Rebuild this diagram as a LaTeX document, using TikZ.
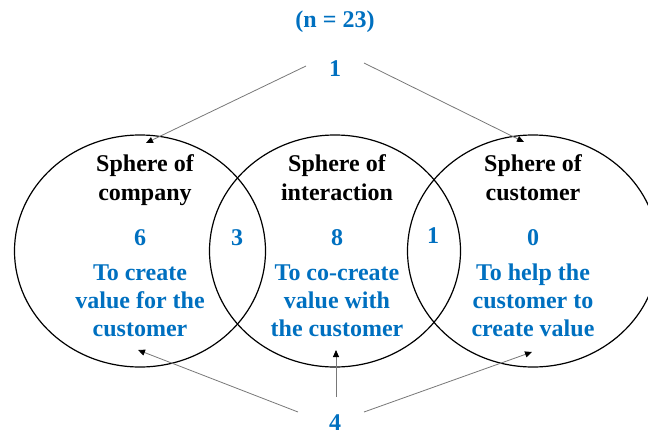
\documentclass[tikz,border=0pt]{standalone}
\usepackage{fontspec}
\setmainfont{Liberation Serif}
\usetikzlibrary{arrows.meta}
\definecolor{tblue}{RGB}{0,112,192}
\definecolor{lgray}{RGB}{120,120,120}
\tikzset{
  sph/.style={draw=black,line width=1.2pt},
  blk/.style={anchor=base,inner sep=0pt,font=\fontsize{24}{29}\selectfont\bfseries,text=black},
  blu/.style={blk,text=tblue},
  con/.style={draw=lgray,line width=0.8pt,-{Triangle[length=7pt,width=6pt,black]}}
}
\begin{document}
\begin{tikzpicture}[x=1pt,y=-1pt]
\useasboundingbox (0,0) rectangle (648,434);
\begin{scope}
\clip (0,0) rectangle (648,434);
\draw[sph] (140,251) ellipse [x radius=125.5,y radius=116];
\draw[sph] (335,251) ellipse [x radius=125.5,y radius=116];
\draw[sph] (533,251) ellipse [x radius=125.5,y radius=116];
\end{scope}
% top
\node[blu] (n) at (335,27) {(n = 23)};
\node[blu] (one) at (335,76) {1};
\node[blu] (four) at (335,430) {4};
% left sphere
\node[blk] (l1) at (145,171) {Sphere of};
\node[blk] (l2) at (145,200) {company};
\node[blu] (l3) at (140,245) {6};
\node[blu] (l4) at (140,280) {To create};
\node[blu] (l5) at (140,308) {value for the};
\node[blu] (l6) at (140,336) {customer};
% middle sphere
\node[blk] (m1) at (337,171) {Sphere of};
\node[blk] (m2) at (337,200) {interaction};
\node[blu] (m3) at (337,245) {8};
\node[blu] (m4) at (337,280) {To co-create};
\node[blu] (m5) at (337,308) {value with};
\node[blu] (m6) at (337,336) {the customer};
% right sphere
\node[blk] (r1) at (533,171) {Sphere of};
\node[blk] (r2) at (533,200) {customer};
\node[blu] (r3) at (533,245) {0};
\node[blu] (r4) at (533,280) {To help the};
\node[blu] (r5) at (533,308) {customer to};
\node[blu] (r6) at (533,336) {create value};
% overlaps
\node[blu] (o1) at (237,245) {3};
\node[blu] (o2) at (433,243) {1};
% connector ends
\coordinate (s1) at (306,66);
\coordinate (s2) at (364,63);
\coordinate (t1) at (146,143);
\coordinate (t2) at (524,142);
\coordinate (s3) at (298,412);
\coordinate (s4) at (336,397);
\coordinate (s5) at (364,412);
\coordinate (t3) at (138,350);
\coordinate (t4) at (336,350);
\coordinate (t5) at (532,352);
\draw[con] (s1) -- (t1);
\draw[con] (s2) -- (t2);
\draw[con] (s3) -- (t3);
\draw[con] (s4) -- (t4);
\draw[con] (s5) -- (t5);
\end{tikzpicture}
\end{document}
